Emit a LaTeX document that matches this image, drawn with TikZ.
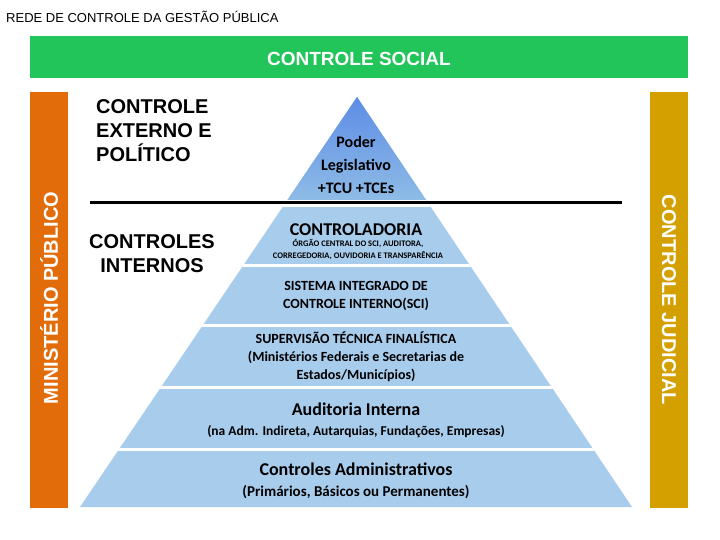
\documentclass[tikz,border=0pt]{standalone}
\usepackage{fontspec}
\setmainfont{Carlito}[BoldFont={Carlito Bold}]
\newfontfamily\arial{Liberation Sans}[BoldFont={Liberation Sans Bold}]
\begin{document}
\begin{tikzpicture}[x=1pt,y=-1pt,
  lbl/.style={font=\arial\bfseries\fontsize{20}{24}\selectfont,align=center,text=black},
  pt/.style={align=center,text=black,inner sep=0pt},
  side/.style={text=white}]
\definecolor{grn}{HTML}{22C55A}
\definecolor{org}{HTML}{E36C0A}
\definecolor{gld}{HTML}{D4A000}
\definecolor{lb}{HTML}{A8CCEC}
\definecolor{db}{HTML}{5E9FDC}
\useasboundingbox (0,0) rectangle (720,540);
\fill[white] (0,0) rectangle (720,540);
\node[font=\arial\fontsize{13}{13}\selectfont,anchor=west,inner sep=0pt] (title) at (6,17) {REDE DE CONTROLE DA GESTÃO PÚBLICA};
\fill[grn] (30,36) rectangle (688,78);
\node[side,font=\arial\bfseries\fontsize{19}{19}\selectfont] (soc) at (359,59) {CONTROLE SOCIAL};
\fill[org] (30,92) rectangle (68,508);
\node[side,rotate=90,font=\arial\bfseries\fontsize{20}{20}\selectfont] (mp) at (49,298) {MINISTÉRIO PÚBLICO};
\fill[gld] (650,92) rectangle (688,508);
\node[side,rotate=-90,font=\arial\bfseries\fontsize{20}{20}\selectfont] (cj) at (669,300) {CONTROLE JUDICIAL};
\fill[lb] (357,97) -- (632,507) -- (80,507) -- cycle;
\begin{scope}
\clip (357,97) -- (632,507) -- (80,507) -- cycle;
\shade[top color=db!80!blue!90,bottom color=db!70] (80,97) rectangle (632,200);
\fill[white] (80,200) rectangle (632,207);
\foreach \y in {265,325,387,449} \fill[white] (80,\y-1.5) rectangle (632,\y+1.5);
\end{scope}
\draw[line width=3pt] (90,203) -- (622,203);
\node[pt,font=\bfseries\fontsize{16}{23}\selectfont] (pl) at (356,165) {Poder\\Legislativo\\+TCU +TCEs};
\node[pt,font=\bfseries\fontsize{18}{18}\selectfont] (ctr) at (356,230) {CONTROLADORIA};
\node[pt,font=\bfseries\fontsize{8.5}{12}\selectfont] (ctr2) at (358,250) {ÓRGÃO CENTRAL DO SCI, AUDITORA,\\CORREGEDORIA, OUVIDORIA E TRANSPARÊNCIA};
\node[pt,font=\bfseries\fontsize{14}{18}\selectfont] (sci) at (356,296) {SISTEMA INTEGRADO DE\\CONTROLE INTERNO(SCI)};
\node[pt,font=\bfseries\fontsize{14}{18}\selectfont] (sup) at (356,357) {SUPERVISÃO TÉCNICA FINALÍSTICA\\(Ministérios Federais e Secretarias de\\Estados/Municípios)};
\node[pt,font=\bfseries\fontsize{18}{18}\selectfont] (ai) at (356,409) {Auditoria Interna};
\node[pt,font=\bfseries\fontsize{13.5}{13.5}\selectfont] (ai2) at (356,432) {(na Adm. Indireta, Autarquias, Fundações, Empresas)};
\node[pt,font=\bfseries\fontsize{18}{18}\selectfont] (ca) at (356,469) {Controles Administrativos};
\node[pt,font=\bfseries\fontsize{15}{15}\selectfont] (ca2) at (356,492) {(Primários, Básicos ou Permanentes)};
\node[lbl,anchor=north west,align=left,inner sep=0pt] (ext) at (96,99) {CONTROLE\\EXTERNO E\\POLÍTICO};
\node[lbl,inner sep=0pt] (int) at (152,254) {CONTROLES\\INTERNOS};
\end{tikzpicture}
\end{document}
